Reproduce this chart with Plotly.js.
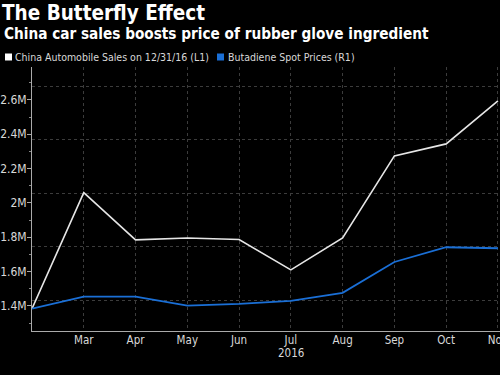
<!DOCTYPE html>
<html>
<head>
<meta charset="utf-8">
<script src="https://cdn.plot.ly/plotly-3.0.1.min.js"></script>
<style>html,body{margin:0;padding:0;background:#000;}#chart{width:500px;height:375px;}</style>
</head>
<body>
<div id="chart"></div>
<script>
// Data
const months = ["Feb","Mar","Apr","May","Jun","Jul","Aug","Sep","Oct","Nov"];
const tickMonths = ["Mar","Apr","May","Jun","Jul","Aug","Sep","Oct","Nov"];
const carSales = [1384000, 2060000, 1785000, 1796000, 1787000, 1610000, 1796000, 2274000, 2344000, 2594000];
// Butadiene spot prices (R1 axis not visible; values expressed on the left-axis equivalent scale)
const butadiene = [1384000, 1454000, 1454000, 1402000, 1412000, 1430000, 1476000, 1656000, 1742000, 1736000];
const leftTicks = [1400000, 1600000, 1800000, 2000000, 2200000, 2400000, 2600000];
const leftTickText = ["1.4M","1.6M","1.8M","2M","2.2M","2.4M","2.6M"];
const rightGrid = [1429000, 1745000, 2056500, 2367000, 2677500];
const seriesNames = ["China Automobile Sales on 12/31/16 (L1)", "Butadiene Spot Prices (R1)"];

const FONT = "DejaVu Sans Condensed, DejaVu Sans, sans-serif";
const yRange = [1254000, 2792000];

const traces = [
  {x: months, y: carSales, type: "scatter", mode: "lines", name: seriesNames[0],
   line: {color: "#e6e6e6", width: 1.6}, yaxis: "y", showlegend: false},
  {x: months, y: butadiene, type: "scatter", mode: "lines", name: seriesNames[1],
   line: {color: "#1a6fd6", width: 1.8}, yaxis: "y2", showlegend: false}
];

const layout = {
  width: 500, height: 375,
  paper_bgcolor: "#000", plot_bgcolor: "#000",
  margin: {l: 32, r: 0, t: 67, b: 44},
  font: {family: FONT, color: "#d8d8d8", size: 11.5},
  title: {text: "The Butterfly Effect", x: 0.004, xref: "container", xanchor: "left",
          y: 1 - 13/375, yref: "container", yanchor: "middle",
          font: {family: FONT, size: 20.5, color: "#ffffff", weight: "bold"}},
  xaxis: {type: "category", range: [0, 9.04], tickmode: "array", tickvals: tickMonths, ticktext: tickMonths,
          showgrid: true, gridcolor: "#3c3c3c", griddash: "dot", gridwidth: 1,
          showline: true, linecolor: "#aaaaaa", linewidth: 1, ticks: "", zeroline: false,
          ticklabelstandoff: -2,
          tickfont: {family: FONT, size: 11.5, color: "#d8d8d8"}},
  yaxis: {range: yRange, tickmode: "array", tickvals: leftTicks, ticktext: leftTickText,
          showgrid: false, showline: true, linecolor: "#aaaaaa", linewidth: 1,
          ticks: "outside", ticklen: 4, tickcolor: "#aaaaaa", zeroline: false,
          ticklabelstandoff: -2,
          minor: {dtick: 100000, tick0: 1300000, ticks: "outside", ticklen: 2, tickcolor: "#888"},
          tickfont: {family: FONT, size: 12, color: "#d8d8d8"}},
  yaxis2: {range: yRange, overlaying: "y", side: "right", tickmode: "array", tickvals: rightGrid,
           showticklabels: false, ticks: "", showgrid: true, gridcolor: "#3c3c3c", griddash: "dot",
           zeroline: false, showline: false},
  shapes: [
    {type: "rect", xref: "paper", yref: "paper", x0: (5-32)/468, x1: (12-32)/468,
     y0: (331-60.5)/264, y1: (331-53.5)/264, fillcolor: "#ffffff", line: {width: 0}},
    {type: "rect", xref: "paper", yref: "paper", x0: (217-32)/468, x1: (224-32)/468,
     y0: (331-60.5)/264, y1: (331-53.5)/264, fillcolor: "#1a6fd6", line: {width: 0}}
  ],
  annotations: [
    {text: "<b>China car sales boosts price of rubber glove ingredient</b>", xref: "paper", yref: "paper",
     x: (2-32)/468, y: (331-34)/264, xanchor: "left", yanchor: "middle", showarrow: false,
     font: {family: FONT, size: 15.2, color: "#ffffff"}},
    {text: seriesNames[0], xref: "paper", yref: "paper", x: (13-32)/468, y: (331-57)/264,
     xanchor: "left", yanchor: "middle", showarrow: false, font: {family: FONT, size: 10.5, color: "#d8d8d8"}},
    {text: seriesNames[1], xref: "paper", yref: "paper", x: (226-32)/468, y: (331-57)/264,
     xanchor: "left", yanchor: "middle", showarrow: false, font: {family: FONT, size: 10.5, color: "#d8d8d8"}},
    {text: "2016", xref: "x", yref: "paper", x: "Jul", y: (331-353)/264, xanchor: "center", yanchor: "middle",
     showarrow: false, font: {family: FONT, size: 11.5, color: "#d8d8d8"}}
  ]
};

Plotly.newPlot("chart", traces, layout, {displayModeBar: false, staticPlot: true});
</script>
</body>
</html>
